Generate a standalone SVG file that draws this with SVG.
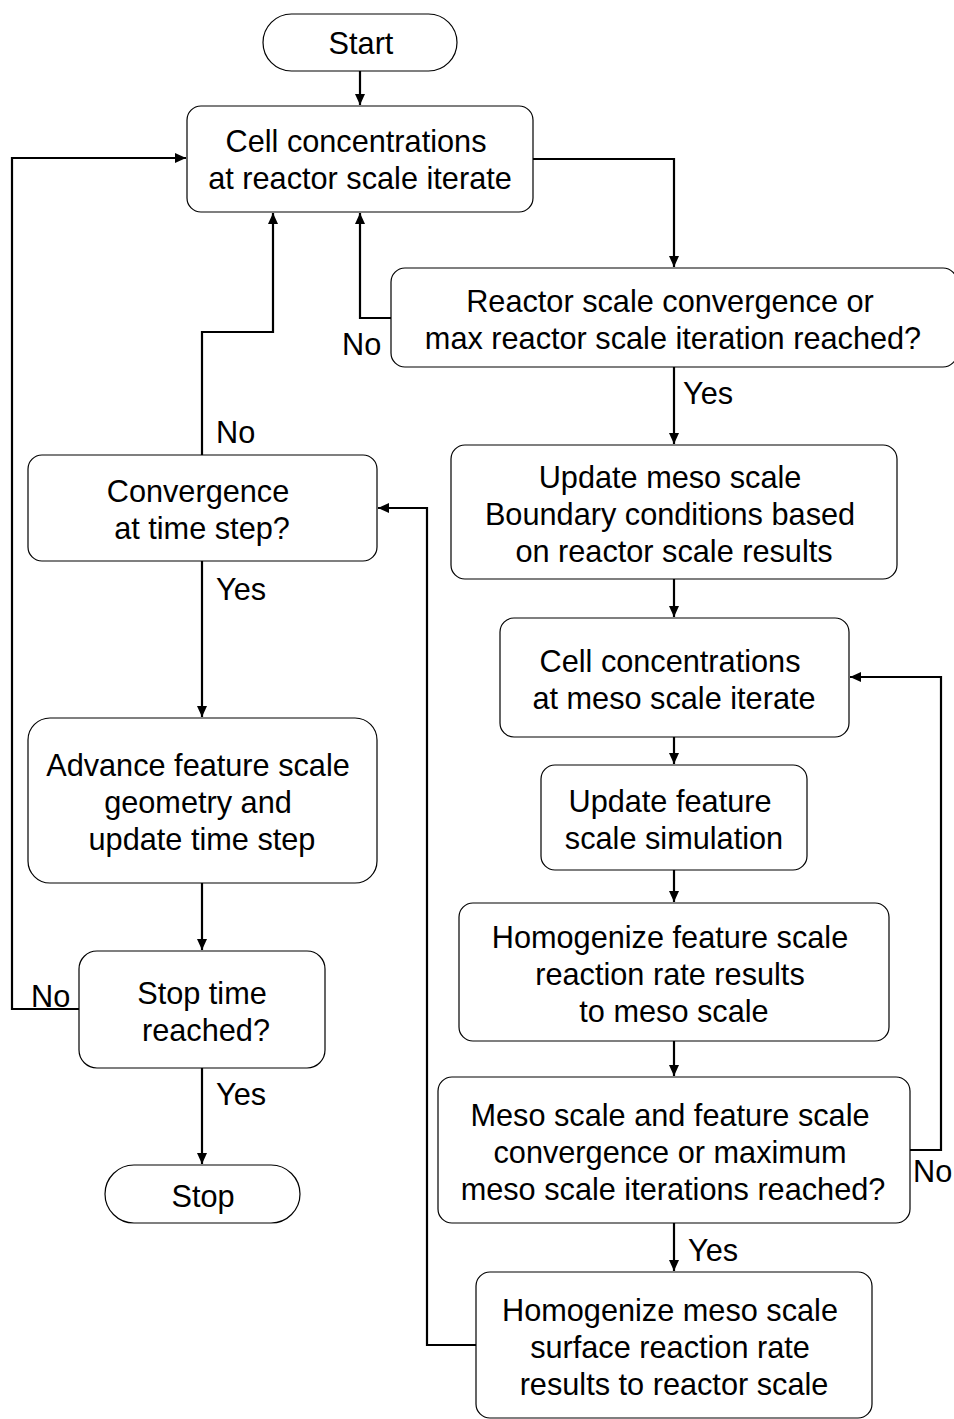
<svg xmlns="http://www.w3.org/2000/svg" width="954" height="1419" viewBox="0 0 954 1419">
<style>
.box{fill:#fff;stroke:#000;stroke-width:1.2}
.t{font-family:"Liberation Sans",Arial,sans-serif;font-size:30.7px;fill:#000;text-anchor:middle}
.l{font-family:"Liberation Sans",Arial,sans-serif;font-size:30.7px;fill:#000}
.c{fill:none;stroke:#000;stroke-width:2.2}
</style>
<defs>
<marker id="ah" markerUnits="userSpaceOnUse" markerWidth="12" markerHeight="10" refX="11" refY="5" orient="auto">
<path d="M0,0 L11,5 L0,10 Z" fill="#000"/>
</marker>
</defs>
<rect width="954" height="1419" fill="#fff"/>
<g id="connectors">
<path class="c" d="M360,71 V105" marker-end="url(#ah)"/>
<path class="c" d="M533,159 H674 V267" marker-end="url(#ah)"/>
<path class="c" d="M391,318 H360 V213" marker-end="url(#ah)"/>
<path class="c" d="M674,367 V444" marker-end="url(#ah)"/>
<path class="c" d="M674,579 V617" marker-end="url(#ah)"/>
<path class="c" d="M674,737 V764" marker-end="url(#ah)"/>
<path class="c" d="M674,870 V902" marker-end="url(#ah)"/>
<path class="c" d="M674,1041 V1076" marker-end="url(#ah)"/>
<path class="c" d="M910,1150 H941 V677 H850" marker-end="url(#ah)"/>
<path class="c" d="M674,1223 V1271" marker-end="url(#ah)"/>
<path class="c" d="M476,1345 H427 V508 H378" marker-end="url(#ah)"/>
<path class="c" d="M202,455 V332 H273 V213" marker-end="url(#ah)"/>
<path class="c" d="M202,561 V717" marker-end="url(#ah)"/>
<path class="c" d="M202,883 V950" marker-end="url(#ah)"/>
<path class="c" d="M79,1009 H12 V158 H186" marker-end="url(#ah)"/>
<path class="c" d="M202,1068 V1164" marker-end="url(#ah)"/>
<text class="l" x="342" y="355">No</text>
<text class="l" x="683" y="404">Yes</text>
<text class="l" x="913" y="1182">No</text>
<text class="l" x="688" y="1261">Yes</text>
<text class="l" x="216" y="443">No</text>
<text class="l" x="216" y="600">Yes</text>
<text class="l" x="31" y="1007">No</text>
<text class="l" x="216" y="1105">Yes</text>
</g>
<g id="start">
<rect class="box" x="263" y="14" width="194" height="57" rx="28.5"/>
<text class="t" x="361" y="54">Start</text>
</g>
<g id="cell-reactor">
<rect class="box" x="187" y="106" width="346" height="106" rx="14"/>
<text class="t" x="356" y="152">Cell concentrations</text>
<text class="t" x="360" y="189">at reactor scale iterate</text>
</g>
<g id="reactor-conv">
<rect class="box" x="391" y="268" width="566" height="99" rx="14"/>
<text class="t" x="670" y="312">Reactor scale convergence or</text>
<text class="t" x="673" y="349">max reactor scale iteration reached?</text>
</g>
<g id="update-meso">
<rect class="box" x="451" y="445" width="446" height="134" rx="14"/>
<text class="t" x="670" y="488">Update meso scale</text>
<text class="t" x="670" y="525">Boundary conditions based</text>
<text class="t" x="674" y="562">on reactor scale results</text>
</g>
<g id="cell-meso">
<rect class="box" x="500" y="618" width="349" height="119" rx="14"/>
<text class="t" x="670" y="672">Cell concentrations</text>
<text class="t" x="674" y="709">at meso scale iterate</text>
</g>
<g id="update-feature">
<rect class="box" x="541" y="765" width="266" height="105" rx="14"/>
<text class="t" x="670" y="812">Update feature</text>
<text class="t" x="674" y="849">scale simulation</text>
</g>
<g id="homog-feature">
<rect class="box" x="459" y="903" width="430" height="138" rx="14"/>
<text class="t" x="670" y="948">Homogenize feature scale</text>
<text class="t" x="670" y="985">reaction rate results</text>
<text class="t" x="674" y="1022">to meso scale</text>
</g>
<g id="meso-conv">
<rect class="box" x="438" y="1077" width="472" height="146" rx="14"/>
<text class="t" x="670" y="1126">Meso scale and feature scale</text>
<text class="t" x="670" y="1163">convergence or maximum</text>
<text class="t" x="673" y="1200">meso scale iterations reached?</text>
</g>
<g id="homog-meso">
<rect class="box" x="476" y="1272" width="396" height="146" rx="14"/>
<text class="t" x="670" y="1321">Homogenize meso scale</text>
<text class="t" x="670" y="1358">surface reaction rate</text>
<text class="t" x="674" y="1395">results to reactor scale</text>
</g>
<g id="conv-time">
<rect class="box" x="28" y="455" width="349" height="106" rx="14"/>
<text class="t" x="198" y="502">Convergence</text>
<text class="t" x="202" y="539">at time step?</text>
</g>
<g id="advance">
<rect class="box" x="28" y="718" width="349" height="165" rx="22"/>
<text class="t" x="198" y="776">Advance feature scale</text>
<text class="t" x="198" y="813">geometry and</text>
<text class="t" x="202" y="850">update time step</text>
</g>
<g id="stop-time">
<rect class="box" x="79" y="951" width="246" height="117" rx="18"/>
<text class="t" x="202" y="1004">Stop time</text>
<text class="t" x="206" y="1041">reached?</text>
</g>
<g id="stop">
<rect class="box" x="105" y="1165" width="195" height="58" rx="29"/>
<text class="t" x="203" y="1207">Stop</text>
</g>
</svg>
